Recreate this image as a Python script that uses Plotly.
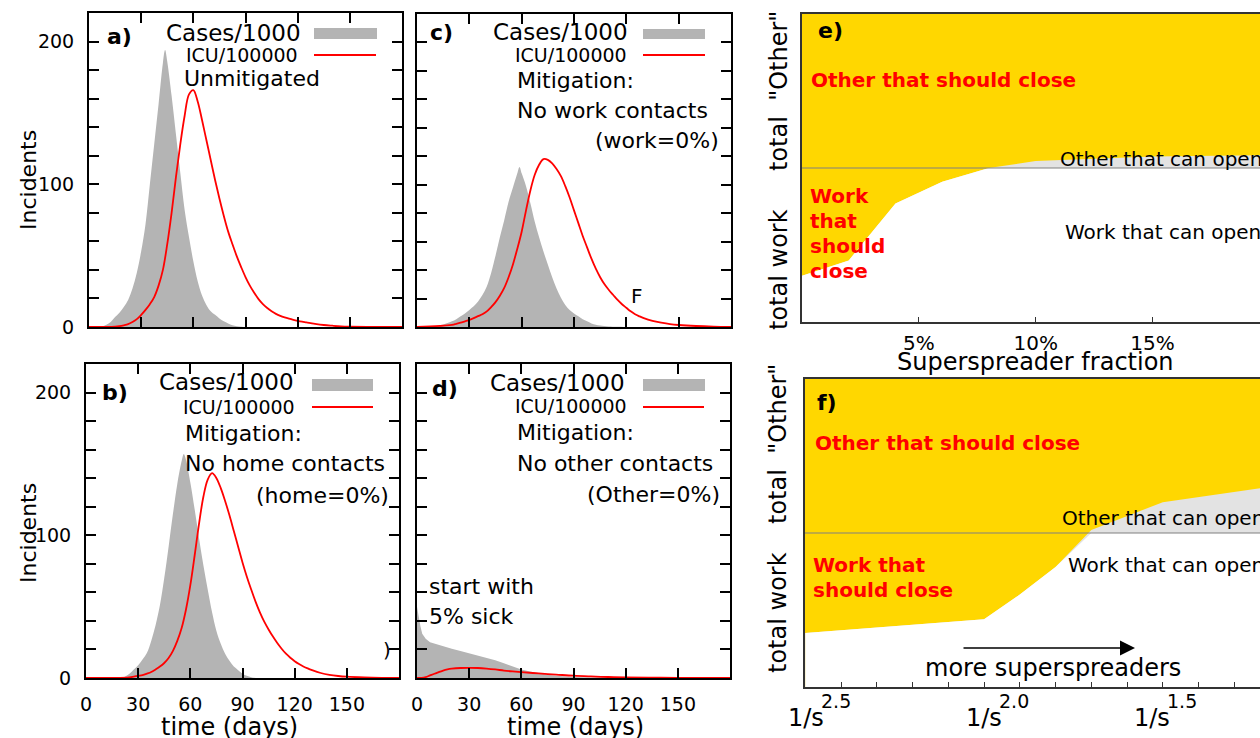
import numpy as np
import plotly.graph_objects as go

W, H = 1260, 738
FONT = "DejaVu Sans"
GRAY = "#b4b4b4"
RED = "#ff0000"
YELLOW = "#ffd700"
LIGHT = "#e3e3e3"

# ---------------- data ----------------
day_ticks = [0, 30, 60, 90, 120, 150]
day_tick_text = ["0", "30", "60", "90", "120", "150"]
inc_ticks = [0, 20, 40, 60, 80, 100, 120, 140, 160, 180, 200]
inc_tick_text = ["0", "", "", "", "", "100", "", "", "", "", "200"]

# a) unmitigated
cases_a_days = [0, 5, 7.5, 10, 12.5, 15, 17.5, 20, 22.5, 25, 27.5, 30, 32.5, 35, 37.5, 40, 42.5, 43.75, 45,
                47.5, 50, 52.5, 55, 57.5, 60, 62.5, 65, 67.5, 70, 72.5, 75, 77.5, 80, 82.5, 85, 87.5, 90, 180]
cases_a = [0, 0, 0.3, 1.5, 3.5, 7, 10, 14, 19, 27, 38, 53, 72, 100, 128, 156, 185, 194, 186,
           162, 135, 108, 82, 63, 46, 32, 22, 15.5, 11, 8.5, 6, 4, 2.5, 1.2, 0.5, 0.2, 0, 0]
icu_a_days = [0, 15, 17.5, 20, 22.5, 25, 27.5, 30, 32.5, 35, 37.5, 40, 42.5, 45, 47.5, 50, 52.5, 55,
              57.5, 60, 62.5, 65, 67.5, 70, 72.5, 75, 77.5, 80, 82.5, 85, 87.5, 90, 92.5, 95, 97.5,
              100, 102.5, 105, 107.5, 110, 112.5, 115, 117.5, 120, 122.5, 125, 127.5, 130, 135, 140,
              145, 150, 160, 180]
icu_a = [0, 0.3, 0.6, 1.2, 2, 3.5, 5.5, 8.5, 12, 16, 21, 29, 40, 58, 80, 105, 128, 148,
         163, 166, 158, 145, 131, 117, 103, 90, 78, 67, 58, 49.5, 42, 35, 29, 24, 19.5,
         16, 13.3, 11, 9.2, 7.8, 6.7, 5.8, 5, 4.3, 3.7, 3.2, 2.7, 2.2, 1.4, 0.9,
         0.5, 0.3, 0.1, 0]

# b) no home contacts
cases_b_days = [0, 20, 22.5, 25, 27.5, 30, 32.5, 35, 37.5, 40, 42.5, 45, 47.5, 50, 52.5, 55, 56.25, 57.5,
                60, 62.5, 65, 67.5, 70, 72.5, 75, 77.5, 80, 82.5, 85, 87.5, 90, 92.5, 95, 97.5, 180]
cases_b = [0, 0.2, 1, 3, 6, 9, 13, 17.5, 26, 37, 51, 70, 92, 115, 136, 152, 157, 153,
           137, 118, 98, 79, 62, 46, 33, 24, 17, 12, 8, 5.5, 3, 1.5, 0.5, 0, 0]
icu_b_days = [0, 25, 27.5, 30, 32.5, 35, 37.5, 40, 42.5, 45, 47.5, 50, 52.5, 55, 57.5, 60, 62.5, 65,
              67.5, 70, 72.5, 75, 77.5, 80, 82.5, 85, 87.5, 90, 92.5, 95, 97.5, 100, 102.5, 105,
              107.5, 110, 112.5, 115, 117.5, 120, 122.5, 125, 127.5, 130, 135, 140, 145, 150, 160, 170, 180]
icu_b = [0, 0.5, 1, 1.5, 2, 3, 4.2, 6, 8, 10.5, 14, 19, 26, 35, 48, 65, 86, 108,
         127, 139, 143.5, 140, 133, 124, 114, 103, 92, 81, 71, 62, 53.5, 46, 39.5, 34,
         29, 24.5, 20.5, 17, 14.2, 11.8, 9.8, 8.1, 6.7, 5.5, 3.5, 2.2, 1.4, 0.9, 0.4, 0.15, 0.05]

# c) no work contacts
cases_c_days = [0, 10, 12.5, 15, 17.5, 20, 22.5, 25, 27.5, 30, 32.5, 35, 37.5, 40, 42.5, 45, 47.5, 50,
                52.5, 55, 57.5, 58.75, 60, 62.5, 65, 67.5, 70, 72.5, 75, 77.5, 80, 82.5, 85, 87.5, 90,
                92.5, 95, 97.5, 100, 102.5, 105, 110, 120, 180]
cases_c = [0.1, 0.5, 1, 1.8, 2.8, 4, 5.5, 7.5, 9.5, 12, 14.5, 18, 22.5, 28.5, 38, 50, 63, 75,
           88, 98, 108, 112.5, 108, 99, 87, 74, 63, 53, 44, 35, 27, 20.5, 15.5, 12, 9.5,
           7.5, 5.5, 4, 2.5, 1.5, 1, 0.3, 0, 0]
icu_c_days = [0, 20, 22.5, 25, 27.5, 30, 32.5, 35, 37.5, 40, 42.5, 45, 47.5, 50, 52.5, 55, 57.5, 60,
              62.5, 65, 67.5, 70, 72.5, 75, 77.5, 80, 82.5, 85, 87.5, 90, 92.5, 95, 97.5, 100, 102.5,
              105, 107.5, 110, 112.5, 115, 117.5, 120, 122.5, 125, 127.5, 130, 135, 140, 145, 150,
              160, 170, 180]
icu_c = [0, 1.5, 2.2, 3, 4, 5, 6.2, 7.6, 9, 11, 14, 17.5, 22, 27.5, 35, 44, 55, 67,
         82, 96, 107, 114, 118, 117.5, 115, 111, 106, 99, 91, 82, 73, 64, 56, 48, 41,
         35, 30, 26, 22.5, 19, 16, 13.5, 11, 9, 7.5, 6.2, 4.3, 3, 2, 1.4,
         0.7, 0.3, 0.1]

# d) no other contacts (start with 5% sick)
cases_d_days = [0, 1, 2, 3, 4, 5, 7.5, 10, 15, 20, 25, 30, 35, 40, 45, 50, 55, 60, 65, 70, 75, 80, 85,
                90, 100, 110, 120, 180]
cases_d = [50, 42, 36, 31, 29, 27.5, 25, 24, 22, 20.5, 19, 17.5, 16, 14.5, 12.5, 10.3, 8, 6, 4.5, 3.2,
           2.3, 1.5, 1, 0.7, 0.4, 0.2, 0.1, 0]
icu_d_days = [0, 2.5, 5, 7.5, 10, 12.5, 15, 17.5, 20, 25, 30, 35, 40, 45, 50, 55, 60, 70, 80, 90, 100,
              110, 120, 140, 160, 180]
icu_d = [0, 0.1, 0.6, 1.8, 3, 4.1, 5.2, 6, 6.5, 7, 7.1, 7, 6.6, 6, 5.2, 4.6, 4.1, 3.2, 2.4, 1.6, 1.1,
         0.7, 0.5, 0.2, 0.1, 0.05]

# e) boundary vs superspreader fraction (%), y: 0..1 work, 1..2 other
ss_frac = [0, 2, 4, 6, 8, 10, 15, 20]
ss_bound = [0.30, 0.40, 0.77, 0.91, 1.0, 1.045, 1.074, 1.084]
e_ticks = [5, 10, 15]
e_tick_text = ["5%", "10%", "15%"]

# f) boundary vs exponent of 1/s
ss_exp = [2.6, 2.1, 2.0, 1.9, 1.8, 1.6, 1.3]
exp_bound = [0.35, 0.44, 0.60, 0.78, 1.02, 1.20, 1.30]
f_minor_ticks = [2.5, 2.4, 2.3, 2.2, 2.1, 2.0, 1.9, 1.8, 1.7, 1.6, 1.5, 1.4]
f_label_vals = [2.5, 2.0, 1.5]
f_label_base = ["1/s", "1/s", "1/s"]
f_label_exp = ["2.5", "2.0", "1.5"]
f_label_shift = [-15, -16, -27]


def X(px):
    return px / W


def Y(py):
    return 1 - py / H


fig = go.Figure()

panels = [
    # id, cases days, cases, icu days, icu, left, right, top, bottom, xlabels, ylabels
    ("", cases_a_days, cases_a, icu_a_days, icu_a, 89, 402, 13, 327, False, True),
    ("2", cases_b_days, cases_b, icu_b_days, icu_b, 86, 399, 364, 678, True, True),
    ("3", cases_c_days, cases_c, icu_c_days, icu_c, 417, 731, 14, 327, False, False),
    ("4", cases_d_days, cases_d, icu_d_days, icu_d, 417, 730, 364, 678, True, False),
]

layout = {}
for pid, cd, cv, idd, iv, l, r, t, b, xl, yl in panels:
    shape = "linear" if pid == "4" else "spline"
    fig.add_trace(go.Scatter(x=cd, y=cv, xaxis="x" + pid, yaxis="y" + pid, mode="lines",
                             line=dict(width=0, color=GRAY, shape=shape, smoothing=1.0),
                             fill="tozeroy", fillcolor=GRAY, showlegend=False, hoverinfo="skip"))
    fig.add_trace(go.Scatter(x=idd, y=iv, xaxis="x" + pid, yaxis="y" + pid, mode="lines",
                             line=dict(width=1.8, color=RED, shape="spline", smoothing=1.0),
                             showlegend=False, hoverinfo="skip"))
    layout["xaxis" + pid] = dict(domain=[X(l), X(r)], range=[0, 180], anchor="y" + pid,
                                 tickvals=day_ticks,
                                 ticktext=day_tick_text if xl else [""] * len(day_ticks),
                                 ticks="inside", ticklen=10, tickwidth=1.5, tickcolor="black",
                                 showline=True, linecolor="black", linewidth=2, mirror="ticks",
                                 showgrid=False, zeroline=False, ticklabelstandoff=8,
                                 automargin=False,
                                 tickfont=dict(size=19, color="black", family=FONT))
    layout["yaxis" + pid] = dict(domain=[Y(b), Y(t)], range=[0, 220], anchor="x" + pid,
                                 tickvals=inc_ticks,
                                 ticktext=inc_tick_text if yl else [""] * len(inc_ticks),
                                 ticks="inside", ticklen=10, tickwidth=1.5, tickcolor="black",
                                 showline=True, linecolor="black", linewidth=2, mirror="ticks",
                                 showgrid=False, zeroline=False, ticklabelstandoff=9,
                                 automargin=False,
                                 tickfont=dict(size=19, color="black", family=FONT))

# e panel
fig.add_trace(go.Scatter(x=ss_frac, y=ss_bound, xaxis="x5", yaxis="y5", mode="lines",
                         line=dict(width=0, color=LIGHT), fill="tozeroy", fillcolor=LIGHT,
                         showlegend=False, hoverinfo="skip"))
fig.add_trace(go.Scatter(x=ss_frac, y=np.minimum(ss_bound, 1.0), xaxis="x5", yaxis="y5", mode="lines",
                         line=dict(width=0, color="white"), fill="tozeroy", fillcolor="white",
                         showlegend=False, hoverinfo="skip"))
# f panel
fig.add_trace(go.Scatter(x=ss_exp, y=exp_bound, xaxis="x6", yaxis="y6", mode="lines",
                         line=dict(width=0, color=LIGHT), fill="tozeroy", fillcolor=LIGHT,
                         showlegend=False, hoverinfo="skip"))
fig.add_trace(go.Scatter(x=ss_exp, y=np.minimum(exp_bound, 1.0), xaxis="x6", yaxis="y6", mode="lines",
                         line=dict(width=0, color="white"), fill="tozeroy", fillcolor="white",
                         showlegend=False, hoverinfo="skip"))

EDGE = "#333333"
layout["xaxis5"] = dict(domain=[X(802), 1], range=[0, 19.6], anchor="y5",
                        tickvals=e_ticks, ticktext=e_tick_text, ticks="inside", ticklen=5,
                        tickcolor=EDGE, showline=True, linecolor=EDGE, linewidth=1.5, mirror=True,
                        showgrid=False, zeroline=False, ticklabelstandoff=2, automargin=False,
                        tickfont=dict(size=20, color="black", family=FONT))
layout["yaxis5"] = dict(domain=[Y(322), Y(14)], range=[0, 2], anchor="x5",
                        showticklabels=False, ticks="", showline=True, linecolor=EDGE, linewidth=1.5,
                        mirror=False, showgrid=False, zeroline=False, automargin=False)
layout["xaxis6"] = dict(domain=[X(805), 1], range=[2.601, 1.328], anchor="y6",
                        tickvals=f_minor_ticks, ticktext=[""] * len(f_minor_ticks),
                        ticks="inside", ticklen=5, tickcolor=EDGE,
                        showline=True, linecolor=EDGE, linewidth=1.5, mirror=True,
                        showgrid=False, zeroline=False, automargin=False)
layout["yaxis6"] = dict(domain=[Y(687), Y(379)], range=[0, 2], anchor="x6",
                        showticklabels=False, ticks="", showline=True, linecolor=EDGE, linewidth=1.5,
                        mirror=False, showgrid=False, zeroline=False, automargin=False)

shapes = []
annotations = []


def ann(text, x, y, size=22, xanchor="left", bold=False, color="black", angle=0, yanchor="middle"):
    if bold:
        text = "<b>" + text + "</b>"
    annotations.append(dict(text=text, x=X(x), y=Y(y), xref="paper", yref="paper",
                            xanchor=xanchor, yanchor=yanchor, showarrow=False, textangle=angle,
                            font=dict(size=size, color=color, family=FONT)))


# yellow backgrounds for e, f
for ax in ["x5", "x6"]:
    yax = "y" + ax[1:]
    shapes.append(dict(type="rect", xref=ax + " domain", yref=yax + " domain", x0=0, x1=1, y0=0, y1=1,
                       fillcolor=YELLOW, line=dict(width=0), layer="below"))
    shapes.append(dict(type="line", xref=ax + " domain", yref=yax, x0=0, x1=1, y0=1, y1=1,
                       line=dict(color="#808080", width=1.2), layer="above"))

# legends and labels for a-d
legend_specs = [
    # label, lx, ly, cases right, cases y, swatch x0, x1, y0, y1, icu right, icu y, line x0, x1, line y
    ("a)", 105, 36, 303, 33, 314, 377, 28, 39, 300, 55, 314, 376, 55),
    ("b)", 100, 392, 296, 382, 312, 373, 379, 391, 297, 407, 312, 373, 407),
    ("c)", 428, 33, 630, 32, 643, 705, 29, 39, 629, 55, 643, 705, 55),
    ("d)", 430, 388, 627, 383, 643, 705, 379, 391, 629, 406, 643, 704, 407),
]
for lab, lx, ly, cr, cy, sx0, sx1, sy0, sy1, ir, iy, rx0, rx1, ry in legend_specs:
    ann(lab, lx, ly, size=22, bold=True)
    ann("Cases/1000", cr, cy, size=23, xanchor="right")
    ann("ICU/100000", ir, iy, size=19, xanchor="right")
    shapes.append(dict(type="rect", xref="paper", yref="paper", x0=X(sx0), x1=X(sx1), y0=Y(sy1), y1=Y(sy0),
                       fillcolor=GRAY, line=dict(width=0)))
    shapes.append(dict(type="line", xref="paper", yref="paper", x0=X(rx0), x1=X(rx1), y0=Y(ry), y1=Y(ry),
                       line=dict(color=RED, width=1.8)))

ann("Unmitigated", 182, 79)
ann("Mitigation:", 515, 80)
ann("No work contacts", 515, 110)
ann("(work=0%)", 721, 140, xanchor="right")
ann("Mitigation:", 183, 433)
ann("No home contacts", 183, 463)
ann("(home=0%)", 391, 495, xanchor="right")
ann("Mitigation:", 515, 432)
ann("No other contacts", 515, 463)
ann("(Other=0%)", 722, 494, xanchor="right")
ann("start with", 427, 586)
ann("5% sick", 427, 616)
# small leftover fragments seen in the original
ann("F", 629, 296, size=20)
ann(")", 381, 650, size=20)

ann("Incidents", 28, 180, angle=-90, xanchor="center")
ann("Incidents", 28, 533, angle=-90, xanchor="center")
ann("time (days)", 229, 727, size=24, xanchor="center")
ann("time (days)", 575, 727, size=24, xanchor="center")

# e panel texts
ann("e)", 816, 30, size=22, bold=True)
ann("Other that should close", 809, 80, size=20, bold=True, color=RED)
for txt, yy in [("Work", 196), ("that", 221), ("should", 246), ("close", 271)]:
    ann(txt, 808, yy, size=20, bold=True, color=RED)
ann("Other that can open", 1058, 159, size=20)
ann("Work that can open", 1063, 232, size=20)
ann("Superspreader fraction", 1035, 362, size=24, xanchor="center")
ann("total work", 779, 270, size=24, xanchor="center", angle=-90)
ann("total  \"Other\"", 779, 91, size=24, xanchor="center", angle=-90)

# f panel texts
ann("f)", 815, 402, size=22, bold=True)
ann("Other that should close", 813, 443, size=20, bold=True, color=RED)
ann("Work that", 811, 565, size=20, bold=True, color=RED)
ann("should close", 811, 590, size=20, bold=True, color=RED)
ann("Other that can open", 1060, 518, size=20)
ann("Work that can open", 1066, 565, size=20)
ann("more superspreaders", 1053, 668, size=24, xanchor="center")
ann("total work", 778, 613, size=24, xanchor="center", angle=-90)
ann("total  \"Other\"", 778, 444, size=24, xanchor="center", angle=-90)
annotations.append(dict(text="", x=X(1135), y=Y(648), ax=-(1135 - 962), ay=0, xref="paper", yref="paper",
                        axref="pixel", ayref="pixel", showarrow=True, arrowhead=2, arrowsize=2.0,
                        arrowwidth=1.5, arrowcolor="black"))
for v, base, ex, sh in zip(f_label_vals, f_label_base, f_label_exp, f_label_shift):
    annotations.append(dict(text=base, x=v, xref="x6", y=Y(718), yref="paper", xshift=sh,
                            xanchor="right", yanchor="middle", showarrow=False,
                            font=dict(size=24, color="black", family=FONT)))
    annotations.append(dict(text=ex, x=v, xref="x6", y=Y(701), yref="paper", xshift=sh - 7,
                            xanchor="left", yanchor="middle", showarrow=False,
                            font=dict(size=19, color="black", family=FONT)))

fig.update_layout(width=W, height=H, margin=dict(l=0, r=0, t=0, b=0, pad=0, autoexpand=False),
                  paper_bgcolor="white", plot_bgcolor="white",
                  font=dict(family=FONT, color="black"),
                  shapes=shapes, annotations=annotations, showlegend=False, **layout)
fig.write_html("out.html", config={"displayModeBar": False},
               post_script=("document.documentElement.style.overflow='hidden';"
                            "document.body.style.margin='0';document.body.style.overflow='hidden';"
                            "var gd=document.getElementById('{plot_id}');"
                            "gd.style.position='fixed';gd.style.left='0px';gd.style.top='0px';"))
